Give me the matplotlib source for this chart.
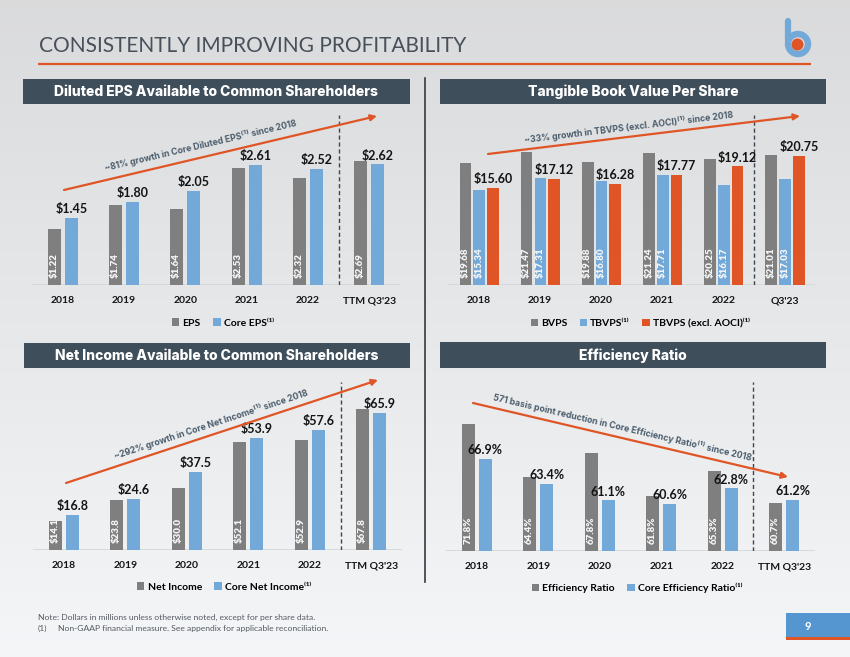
import numpy as np
import matplotlib.pyplot as plt
from matplotlib.patches import Rectangle, Circle

W, H = 850, 657
plt.rcParams['font.family'] = ['Lato', 'DejaVu Sans']

# ---- data ----
years = ['2018', '2019', '2020', '2021', '2022', "TTM Q3'23"]
years_tb = ['2018', '2019', '2020', '2021', '2022', "Q3'23"]

eps = [1.22, 1.74, 1.64, 2.53, 2.32, 2.69]
core_eps = [1.45, 1.80, 2.05, 2.61, 2.52, 2.62]

bvps = [19.68, 21.47, 19.88, 21.24, 20.25, 21.01]
tbvps = [15.34, 17.31, 16.80, 17.71, 16.17, 17.03]
tbvps_ex_aoci = [15.60, 17.12, 16.28, 17.77, 19.12, 20.75]

net_income = [14.1, 23.8, 30.0, 52.1, 52.9, 67.8]
core_net_income = [16.8, 24.6, 37.5, 53.9, 57.6, 65.9]

eff_ratio = [71.8, 64.4, 67.8, 61.8, 65.3, 60.7]
core_eff_ratio = [66.9, 63.4, 61.1, 60.6, 62.8, 61.2]

GRAY = '#7f7f7f'
BLUE = '#72a9d8'
ORANGE = '#e05526'
SLATE = '#3e4e5b'
TXT = '#141414'
NOTE = '#4b5d6c'

fig = plt.figure(figsize=(8.5, 6.57), dpi=100)

# background gradient
bg = fig.add_axes([0, 0, 1, 1], zorder=-10)
grad = np.linspace(0, 1, 256).reshape(-1, 1)
c0 = np.array([0.855, 0.858, 0.862])
c1 = np.array([0.955, 0.963, 0.972])
img = c0 + (c1 - c0) * grad[:, :, None]
bg.imshow(img, aspect='auto', extent=[0, 1, 0, 1], origin='upper')
bg.axis('off')


def px_axes(x0, y0, x1, y1):
    ax = fig.add_axes([x0 / W, 1 - y1 / H, (x1 - x0) / W, (y1 - y0) / H])
    ax.set_facecolor('none')
    return ax


def panel(rect, ylim, series, colors, names, offsets, width, inside_idx,
          top_idx, fmt_in, fmt_top, ticks, legend_xy, dash_top):
    ax = px_axes(*rect)
    x = np.arange(len(ticks))
    for s, c, n, o in zip(series, colors, names, offsets):
        ax.bar(x + o, s, width, color=c, label=n, zorder=2)
    for i in inside_idx:
        for xi, v in zip(x, series[i]):
            ax.annotate(fmt_in.format(v), (xi + offsets[i], ylim[0]),
                        xytext=(0, 5), textcoords='offset points',
                        rotation=90, ha='center', va='bottom',
                        fontsize=7, fontweight='heavy', color='#f6f6f6',
                        zorder=3)
    for xi, v in zip(x, series[top_idx]):
        ax.annotate(fmt_top.format(v), (xi + offsets[top_idx], v),
                    xytext=(0, 2), textcoords='offset points',
                    ha='center', va='bottom', fontsize=9,
                    fontweight='bold', color=TXT, zorder=3)
    ax.set_xlim(-0.5, len(ticks) - 0.5)
    ax.set_ylim(*ylim)
    ax.axhline(ylim[0], color='#d3d6d9', lw=1.2, zorder=1)
    ax.axvline(len(ticks) - 1.5, 0, dash_top, color='#3c4650', lw=1,
               ls=(0, (3, 2)), zorder=1)
    for sp in ax.spines.values():
        sp.set_visible(False)
    ax.set_yticks([])
    ax.set_xticks(x, ticks, fontsize=7.5, fontweight='bold', color=TXT)
    ax.tick_params(axis='x', length=0, pad=8)
    ax.legend(loc='center', bbox_to_anchor=(legend_xy[0] / W, 1 - legend_xy[1] / H),
              bbox_transform=fig.transFigure, ncol=len(series), frameon=False,
              prop={'weight': 'bold', 'size': 7.5},
              handlelength=0.7, handleheight=0.7, handletextpad=0.3,
              columnspacing=1.2, borderaxespad=0)
    return ax


panel((32, 110, 400, 285), (0, 3.80), [eps, core_eps], [GRAY, BLUE],
      ['EPS', 'Core EPS⁽¹⁾'], [-0.14, 0.14], 0.21, [0], 1,
      '${:.2f}', '${:.2f}', years, (223, 323), 0.97)

panel((448, 110, 815, 285), (0, 28.2), [bvps, tbvps, tbvps_ex_aoci],
      [GRAY, BLUE, ORANGE], ['BVPS', 'TBVPS⁽¹⁾', 'TBVPS (excl. AOCI)⁽¹⁾'],
      [-0.215, 0.01, 0.235], 0.19, [0, 1], 2,
      '${:.2f}', '${:.2f}', years_tb, (640, 323), 0.97)

panel((33, 375, 402, 550), (0, 84.1), [net_income, core_net_income],
      [GRAY, BLUE], ['Net Income', 'Core Net Income⁽¹⁾'], [-0.14, 0.14],
      0.21, [0], 1, '${:.1f}', '${:.1f}', years, (224, 587), 0.96)

panel((446, 376, 815, 551), (54, 78.6), [eff_ratio, core_eff_ratio],
      [GRAY, BLUE], ['Efficiency Ratio', 'Core Efficiency Ratio⁽¹⁾'],
      [-0.14, 0.14], 0.21, [0], 1, '{:.1f}%', '{:.1f}%', years,
      (637, 588), 0.966)

# overlay in pixel coordinates for slide decoration
ov = fig.add_axes([0, 0, 1, 1], zorder=10)
ov.set_xlim(0, W)
ov.set_ylim(H, 0)
ov.axis('off')
ov.set_facecolor('none')

ov.text(39, 46, 'CONSISTENTLY IMPROVING PROFITABILITY', fontsize=15,
        fontweight='normal', color='#48505a', va='center', ha='left')
ov.plot([38, 811], [64, 64], color=ORANGE, lw=1.6, solid_capstyle='butt')

# logo
ov.plot([788, 788], [21, 40], color=BLUE, lw=4.5, solid_capstyle='round')
ov.add_patch(Circle((798, 44), 10, fill=False, ec=BLUE, lw=4.6))
ov.add_patch(Circle((797.5, 44.5), 6, color=ORANGE, lw=0))

headers = [
    ((23, 79, 387, 25), 'Diluted EPS Available to Common Shareholders'),
    ((440, 79, 386, 25), 'Tangible Book Value Per Share'),
    ((24, 343, 386, 25), 'Net Income Available to Common Shareholders'),
    ((440, 342, 386, 26), 'Efficiency Ratio'),
]
for (x0, y0, w, h), t in headers:
    ov.add_patch(Rectangle((x0, y0), w, h, color=SLATE, lw=0))
    ov.text(x0 + w / 2, y0 + h / 2 + 0.5, t, color='white', fontsize=10,
            fontweight='heavy', ha='center', va='center',
            family=['Inter', 'DejaVu Sans'])

ov.plot([425, 425], [78, 582], color='#333a40', lw=1.2)

# trend arrows and captions
arrows = [
    ((64, 190), (377, 116), '~81% growth in Core Diluted EPS⁽¹⁾ since 2018', (201, 146)),
    ((488, 154), (800, 116), '~33% growth in TBVPS (excl. AOCI)⁽¹⁾ since 2018', (629, 127)),
    ((66, 483), (378, 380), '~292% growth in Core Net Income⁽¹⁾ since 2018', (211, 424)),
    ((473, 403), (788, 477), '571 basis point reduction in Core Efficiency Ratio⁽¹⁾ since 2018', (622, 427)),
]
for p0, p1, t, tp in arrows:
    ov.annotate('', xy=p1, xytext=p0,
                arrowprops=dict(arrowstyle='-|>', color=ORANGE, lw=1.6,
                                mutation_scale=9, shrinkA=0, shrinkB=0))
    ang = np.degrees(np.arctan2(p0[1] - p1[1], p1[0] - p0[0]))
    ov.text(tp[0], tp[1], t, rotation=ang, rotation_mode='anchor',
            ha='center', va='center', fontsize=6.3, fontweight='bold',
            color=NOTE, family=['Inter', 'DejaVu Sans'])

# footer
ov.text(38, 617, 'Note: Dollars in millions unless otherwise noted, except for per share data.',
        fontsize=6.1, color='#555b60', va='center')
ov.text(38, 628, '(1)', fontsize=6.1, color='#555b60', va='center')
ov.text(58, 628, 'Non-GAAP financial measure. See appendix for applicable reconciliation.',
        fontsize=6.1, color='#555b60', va='center')

# page number
ov.add_patch(Rectangle((786, 613), 64, 24, color='#5596d0', lw=0))
ov.add_patch(Rectangle((786, 637), 64, 3, color=ORANGE, lw=0))
ov.text(808, 626, '9', color='white', fontsize=8, fontweight='bold',
        ha='center', va='center')

fig.savefig('out.png', dpi=100)
